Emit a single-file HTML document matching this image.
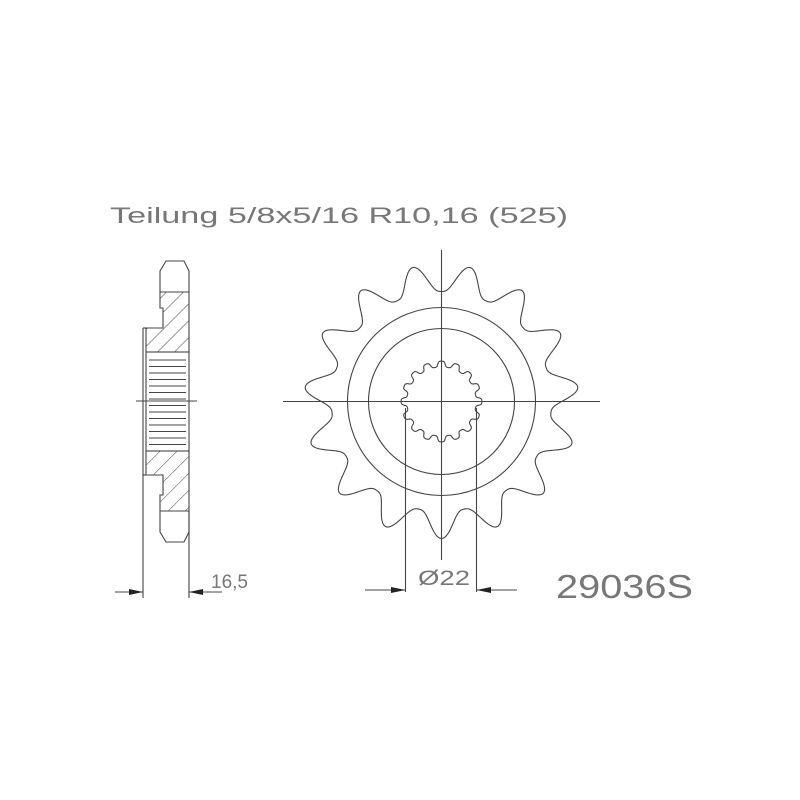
<!DOCTYPE html>
<html><head><meta charset="utf-8"><style>
html,body{margin:0;padding:0;background:#fff;}
svg{display:block;}
text{font-family:"Liberation Sans",sans-serif;fill:#777;}
</style></head><body>
<svg id="s" width="800" height="800" viewBox="0 0 800 800" xmlns="http://www.w3.org/2000/svg">
<defs>
<pattern id="h" patternUnits="userSpaceOnUse" width="12" height="12" patternTransform="rotate(45)">
<line x1="0" y1="0" x2="0" y2="12" stroke="#444" stroke-width="1"/>
</pattern>
</defs>
<text x="110" y="223" font-size="22" textLength="458" lengthAdjust="spacingAndGlyphs">Teilung 5/8x5/16 R10,16 (525)</text>
<g fill="none" stroke="#444" stroke-width="1.1">
<path d="M166,261 L184,261 L189,271 L189,292 L160,292 L160,271 Z"/>
<path d="M166,542 L184,542 L189,532 L189,511 L160,511 L160,532 Z"/>
<path d="M160,292 L189,292 L189,352 L146,352 L146,328 L163,328 L163,308 L160,308 Z" fill="url(#h)"/>
<path d="M160,511 L189,511 L189,451 L146,451 L146,475 L163,475 L163,495 L160,495 Z" fill="url(#h)"/>
<line x1="143" y1="328" x2="146" y2="328"/><line x1="143" y1="475" x2="146" y2="475"/>
<rect x="146" y="352" width="43" height="99"/>
<g id="ribs"></g>
<line x1="136" y1="401" x2="197" y2="401"/>
<line x1="143" y1="328" x2="143" y2="598"/>
<line x1="189" y1="511" x2="189" y2="598"/>
<line x1="115" y1="592" x2="143" y2="592"/>
<line x1="189" y1="592" x2="222" y2="592"/>
<path id="sp"/>
<path id="spl"/>
<circle cx="441.5" cy="401.5" r="94"/>
<circle cx="441.5" cy="401.5" r="73"/>
<line x1="283" y1="401.5" x2="600" y2="401.5"/>
<line x1="441.5" y1="250" x2="441.5" y2="560"/>
<line x1="405.5" y1="408" x2="405.5" y2="592"/>
<line x1="476.5" y1="408" x2="476.5" y2="592"/>
<line x1="365" y1="590" x2="405.5" y2="590"/>
<line x1="476.5" y1="590" x2="517" y2="590"/>
</g>
<g fill="#222">
<polygon points="143,592 129,589 129,595"/>
<polygon points="189,592 203,589 203,595"/>
<polygon points="405.5,590 391,587 391,593"/>
<polygon points="476.5,590 491,587 491,593"/>
</g>
<text x="211" y="588" font-size="19">16,5</text>
<text x="418" y="585" font-size="21" textLength="52" lengthAdjust="spacingAndGlyphs">Ø22</text>
<text x="556" y="598" font-size="33" textLength="137" lengthAdjust="spacingAndGlyphs">29036S</text>
</svg>
<script>
(function(){
var cx=441.5,cy=401.5,d="";
for(var i=0;i<=900;i++){var t=i/900*2*Math.PI;var f=Math.cos(15*(t-Math.PI/2));var w=Math.pow((1+f)/2,1.4);var r=110+27*w;d+=(i?"L":"M")+(cx+r*Math.cos(t)).toFixed(2)+","+(cy+r*Math.sin(t)).toFixed(2);}
document.getElementById("sp").setAttribute("d",d+"Z");
d="";
for(var i=0;i<=640;i++){var t=i/640*2*Math.PI;var f=Math.cos(16*(t+Math.PI/2));var r=37.5+3*Math.tanh(2*f);d+=(i?"L":"M")+(cx+r*Math.cos(t)).toFixed(2)+","+(cy+r*Math.sin(t)).toFixed(2);}
document.getElementById("spl").setAttribute("d",d+"Z");
var g=document.getElementById("ribs"),s="";
for(var y=360;y<450;y+=6.5){s+='<line x1="149" y1="'+y+'" x2="186" y2="'+y+'"/>';}
g.innerHTML=s;
})();
</script>
</body></html>
